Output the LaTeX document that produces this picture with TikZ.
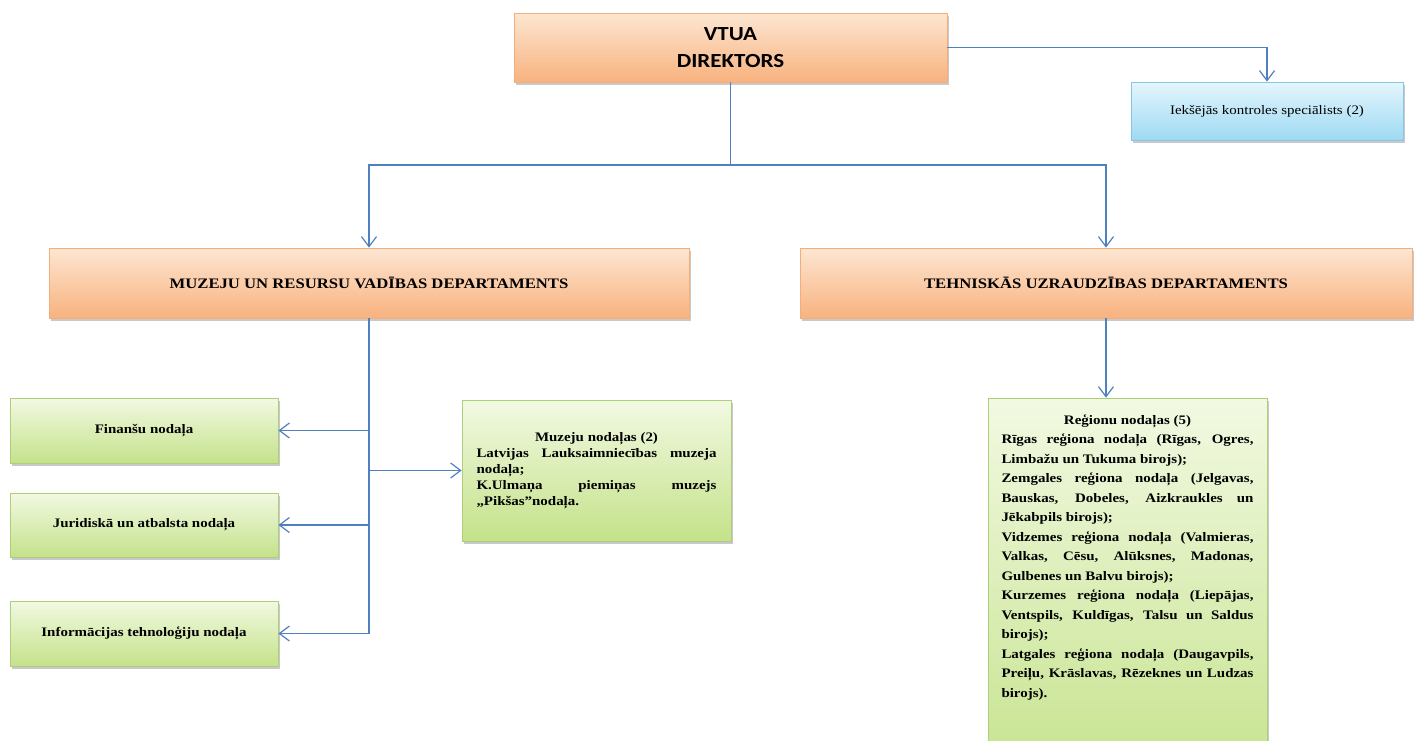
\documentclass[tikz,border=0pt]{standalone}
\usepackage{fontspec}
\setmainfont{Liberation Serif}[FakeStretch=1.15]
\newfontfamily\dirfont{Carlito}[FakeStretch=1.15]
\usetikzlibrary{arrows.meta,shadows}
\definecolor{otop}{HTML}{FDE6D2}
\definecolor{obot}{HTML}{F8B27E}
\definecolor{oline}{HTML}{F3AE7C}
\definecolor{gtop}{HTML}{F2F9E2}
\definecolor{gbot}{HTML}{C4E28A}
\definecolor{gline}{HTML}{ADCF7C}
\definecolor{btop}{HTML}{E4F6FD}
\definecolor{bbot}{HTML}{9ED9F3}
\definecolor{bline}{HTML}{85C7E4}
\definecolor{conn}{HTML}{5080BF}
\newcommand\jln[1]{\hbox to\hsize{#1}}
\newcommand\lln[1]{\hbox{#1}}
\newcommand\cln[1]{\hbox to\hsize{\hfil#1\hfil}}
\begin{document}
\begin{tikzpicture}[x=1pt,y=-1pt,
  boxbase/.style={rectangle, inner sep=0pt, line width=0.8pt,
    drop shadow={shadow xshift=1.5pt, shadow yshift=-3pt, opacity=0.35, fill=black!60}},
  obox/.style={boxbase, draw=oline, top color=otop, bottom color=obot},
  gbox/.style={boxbase, draw=gline, top color=gtop, bottom color=gbot},
  bbox/.style={boxbase, draw=bline, top color=btop, bottom color=bbot},
  lbl/.style={font=\fontsize{13}{16}\selectfont\bfseries, align=center},
  dept/.style={font=\fontsize{14.5}{17}\selectfont\bfseries, align=center},
  link/.style={draw=conn, line width=1.2pt},
  arr/.style={link, -{Straight Barb[length=10pt,width=15pt]}}
]
\fill[white] (0,0) rectangle (1415,740);
\useasboundingbox (0,0) rectangle (1415,740);

% top level
\node[obox, minimum width=433pt, minimum height=69pt, align=center,
  font=\dirfont\fontsize{20}{27}\selectfont\bfseries] (dir) at (730.5,47.5) {VTUA\\DIREKTORS};
\node[bbox, minimum width=272pt, minimum height=58pt,
  font=\fontsize{13}{16}\selectfont] (ctrl) at (1267,111) {Iekšējās kontroles speciālists (2)};

% departments
\node[obox, dept, minimum width=640pt, minimum height=70pt] (mrd) at (369,283) {MUZEJU UN RESURSU VADĪBAS DEPARTAMENTS};
\node[obox, dept, minimum width=612pt, minimum height=70pt] (tud) at (1106,283) {TEHNISKĀS UZRAUDZĪBAS DEPARTAMENTS};

% left units
\node[gbox, lbl, minimum width=268pt, minimum height=65pt] (fin) at (144,430.5) {Finanšu nodaļa};
\node[gbox, lbl, minimum width=268pt, minimum height=64pt] (jur) at (144,525) {Juridiskā un atbalsta nodaļa};
\node[gbox, lbl, minimum width=268pt, minimum height=65pt] (inf) at (144,633.5) {Informācijas tehnoloģiju nodaļa};

\node[gbox, minimum width=269pt, minimum height=141pt] (mn) at (596.5,470.5) {\parbox{240pt}{\fontsize{13}{16}\selectfont\bfseries
\cln{Muzeju nodaļas (2)}
\jln{Latvijas Lauksaimniecības muzeja}
\lln{nodaļa;}
\jln{K.Ulmaņa piemiņas muzejs}
\lln{„Pikšas”nodaļa.}}};

% regions
\node[gbox, minimum width=279pt, minimum height=400pt] (reg) at (1127.5,598) {};
\node[anchor=base, inner sep=0pt] (regtext) at (1127.5,424) {\parbox[t]{252pt}{\fontsize{13}{19.5}\selectfont\bfseries
\cln{Reģionu nodaļas (5)}
\jln{Rīgas reģiona nodaļa (Rīgas, Ogres,}
\lln{Limbažu un Tukuma birojs);}
\jln{Zemgales reģiona nodaļa (Jelgavas,}
\jln{Bauskas, Dobeles, Aizkraukles un}
\lln{Jēkabpils birojs);}
\jln{Vidzemes reģiona nodaļa (Valmieras,}
\jln{Valkas, Cēsu, Alūksnes, Madonas,}
\lln{Gulbenes un Balvu birojs);}
\jln{Kurzemes reģiona nodaļa (Liepājas,}
\jln{Ventspils, Kuldīgas, Talsu un Saldus}
\lln{birojs);}
\jln{Latgales reģiona nodaļa (Daugavpils,}
\jln{Preiļu, Krāslavas, Rēzeknes un Ludzas}
\lln{birojs).}}};

% connectors
\coordinate (j) at (dir.south |- 0,165);
\draw[link] (dir.south) -- (j);
\draw[arr] (j) -| (mrd.north);
\draw[arr] (j) -| (tud.north);
\draw[arr] (dir.east) -| (ctrl.north);

\draw[link] (mrd.south) -- (mrd.south |- inf.east);
\draw[arr] (mrd.south |- fin.east) -- (fin.east);
\draw[arr] (mrd.south |- jur.east) -- (jur.east);
\draw[arr] (mrd.south |- inf.east) -- (inf.east);
\draw[arr] (mrd.south |- mn.west) -- (mn.west);

\draw[arr] (tud.south) -- (tud.south |- reg.north);
\end{tikzpicture}
\end{document}
